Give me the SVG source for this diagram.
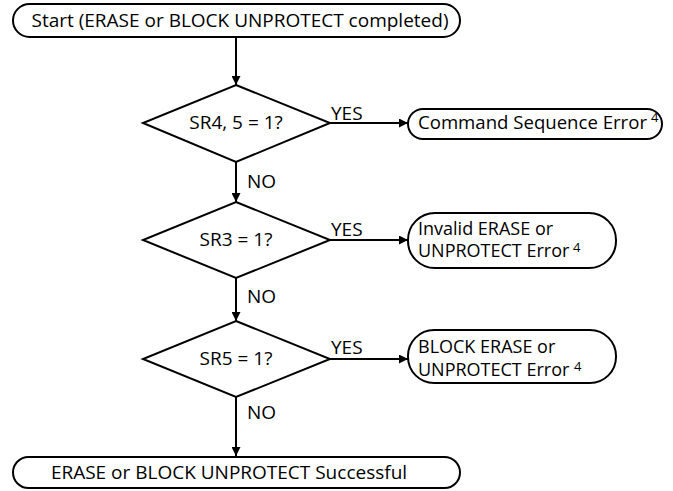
<svg xmlns="http://www.w3.org/2000/svg" width="673" height="491" viewBox="0 0 673 491">
<defs>
<style>
.box{fill:#fff;stroke:#000;stroke-width:2}
.t{font-family:"Open Sans","Noto Sans","Liberation Sans",sans-serif;font-size:19px;fill:#000}
.b{font-size:18px}
.sup{font-family:"Open Sans","Noto Sans","Liberation Sans",sans-serif;font-size:13px;fill:#000}
.c{text-anchor:middle}
.ln{fill:none;stroke:#000;stroke-width:2}
</style>
<marker id="ah" viewBox="0 0 10 10" refX="10" refY="5" markerWidth="9" markerHeight="9" markerUnits="userSpaceOnUse" orient="auto">
<path d="M0,0 L10,5 L0,10 z" fill="#000"/>
</marker>
</defs>
<rect width="673" height="491" fill="#fff"/>
<g id="connectors">
<line class="ln" x1="236" y1="37" x2="236" y2="85" marker-end="url(#ah)"/>
<line class="ln" x1="236" y1="162" x2="236" y2="202" marker-end="url(#ah)"/>
<line class="ln" x1="236" y1="278" x2="236" y2="321" marker-end="url(#ah)"/>
<line class="ln" x1="236" y1="397" x2="236" y2="456" marker-end="url(#ah)"/>
<line class="ln" x1="330" y1="123" x2="408" y2="123" marker-end="url(#ah)"/>
<line class="ln" x1="330" y1="240" x2="408" y2="240" marker-end="url(#ah)"/>
<line class="ln" x1="330" y1="359" x2="408" y2="359" marker-end="url(#ah)"/>
<text class="t" x="331" y="120">YES</text>
<text class="t" x="331" y="236">YES</text>
<text class="t" x="331" y="354">YES</text>
<text class="t" x="247" y="188">NO</text>
<text class="t" x="247" y="303">NO</text>
<text class="t" x="247" y="419">NO</text>
</g>
<g id="start">
<rect class="box" x="13" y="4" width="447" height="33" rx="16.5"/>
<text class="t c" x="240" y="27">Start (ERASE or BLOCK UNPROTECT completed)</text>
</g>
<g id="d1">
<polygon class="box" points="236,85 330,123 236,162 143,123"/>
<text class="t c" x="236" y="129">SR4, 5 = 1?</text>
</g>
<g id="d2">
<polygon class="box" points="236,202 330,240 236,278 143,240"/>
<text class="t c" x="236" y="246">SR3 = 1?</text>
</g>
<g id="d3">
<polygon class="box" points="236,321 330,359 236,397 143,359"/>
<text class="t c" x="236" y="365">SR5 = 1?</text>
</g>
<g id="e1">
<rect class="box" x="408" y="109" width="254" height="30" rx="15"/>
<text class="t" x="418" y="129" textLength="229" lengthAdjust="spacingAndGlyphs">Command Sequence Error</text>
<text class="sup" x="651" y="122">4</text>
</g>
<g id="e2">
<rect class="box" x="408" y="213" width="208" height="55" rx="27"/>
<text class="t b" x="418" y="235">Invalid ERASE or</text>
<text class="t b" x="418" y="257">UNPROTECT Error</text>
<text class="sup" x="573" y="252">4</text>
</g>
<g id="e3">
<rect class="box" x="408" y="330" width="208" height="53" rx="26"/>
<text class="t b" x="418" y="353">BLOCK ERASE or</text>
<text class="t b" x="418" y="376">UNPROTECT Error</text>
<text class="sup" x="574" y="371">4</text>
</g>
<g id="end">
<rect class="box" x="13" y="457" width="447" height="31" rx="15.5"/>
<text class="t c" x="229" y="479">ERASE or BLOCK UNPROTECT Successful</text>
</g>
</svg>
